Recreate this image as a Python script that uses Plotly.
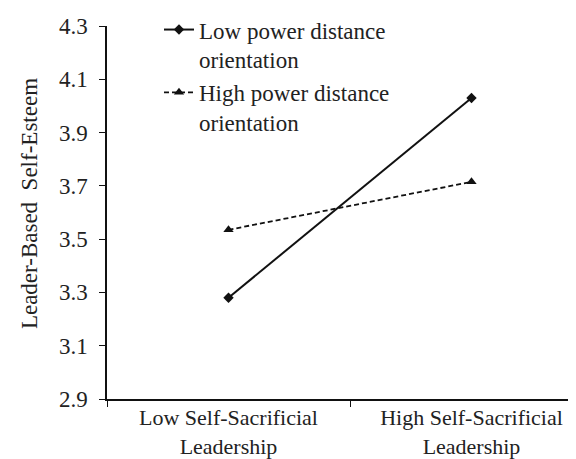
import plotly.graph_objects as go

categories = ["Low Self-Sacrificial<br>Leadership", "High Self-Sacrificial<br>Leadership"]
low_pdo = [3.28, 4.03]
high_pdo = [3.535, 3.715]
series_names = ["Low power distance<br>orientation", "High power distance<br>orientation"]
y_ticks = [2.9, 3.1, 3.3, 3.5, 3.7, 3.9, 4.1, 4.3]
y_title = "Leader-Based  Self-Esteem"

FONT = "Liberation Serif"
TXT = "#222222"
FS = 23
fig = go.Figure()
fig.add_trace(go.Scatter(
    x=categories, y=low_pdo, name=series_names[0], mode="lines+markers",
    line=dict(color="#111111", width=2, dash="solid"),
    marker=dict(symbol="diamond", size=8, color="#111111"),
))
fig.add_trace(go.Scatter(
    x=categories, y=high_pdo, name=series_names[1], mode="lines+markers",
    line=dict(color="#111111", width=1.8, dash="5px,3px"),
    marker=dict(symbol="triangle-up", size=9, color="#111111"),
))

fig.update_layout(
    width=576, height=459,
    margin=dict(l=99, r=0, t=16, b=68),
    paper_bgcolor="white", plot_bgcolor="white",
    font=dict(family=FONT, size=FS, color=TXT),
    showlegend=True,
    legend=dict(x=0.109, y=1.048, xanchor="left", yanchor="top", valign="top",
                bgcolor="rgba(0,0,0,0)", font=dict(family=FONT, size=FS, color=TXT),
                tracegroupgap=0, itemwidth=30),
    annotations=[dict(text=y_title, xref="paper", yref="paper", x=-0.161, y=0.523,
                      xanchor="center", yanchor="middle", textangle=-90, showarrow=False,
                      font=dict(family=FONT, size=FS, color=TXT))],
)
fig.update_xaxes(
    type="category", range=[-0.5, 1.463], tickson="boundaries",
    showline=True, linecolor="#111111", linewidth=1.5,
    ticks="outside", ticklen=6, tickcolor="#111111",
    showgrid=False, zeroline=False, ticklabelstandoff=-2,
    tickfont=dict(family=FONT, size=22, color=TXT),
)
fig.update_yaxes(
    range=[2.9, 4.3], tickvals=y_ticks, tickformat=".1f",
    showline=True, linecolor="#111111", linewidth=1.5,
    ticks="outside", ticklen=6, tickcolor="#111111",
    showgrid=False, zeroline=False, ticklabelstandoff=7,
    tickfont=dict(family=FONT, size=FS, color=TXT),
)
fig.write_html("out.html")
